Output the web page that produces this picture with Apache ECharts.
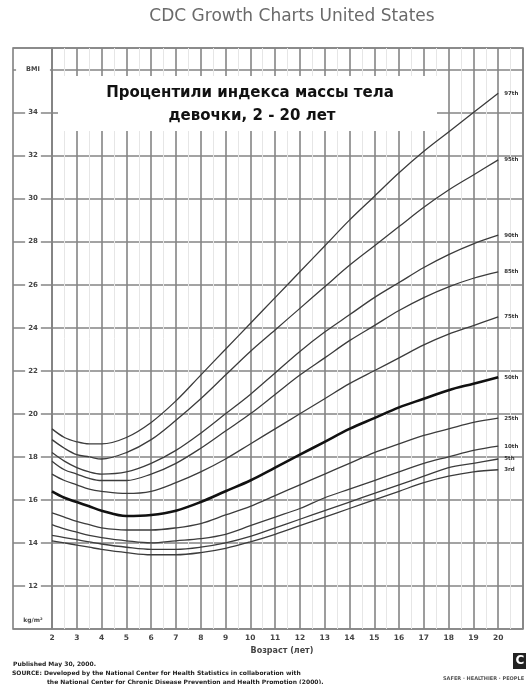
<!DOCTYPE html>
<html>
<head>
<meta charset="utf-8">
<script src="https://cdn.jsdelivr.net/npm/echarts@6/dist/echarts.min.js"></script>
<style>
  html, body { margin: 0; padding: 0; background: #fff; }
  #chart { width: 526px; height: 684px; }
</style>
</head>
<body>
<div id="chart"></div>
<script>
// Age in years
const ages = [2, 2.5, 3, 3.5, 4, 5, 6, 7, 8, 9, 10, 11, 12, 13, 14, 15, 16, 17, 18, 19, 20];

// BMI percentiles for girls (kg/m²)
const p3  = [14.1, 14.0, 13.9, 13.8, 13.7, 13.55, 13.45, 13.45, 13.55, 13.75, 14.05, 14.4, 14.8, 15.2, 15.6, 16.0, 16.4, 16.8, 17.1, 17.3, 17.4];
const p5  = [14.35, 14.25, 14.15, 14.05, 13.95, 13.8, 13.7, 13.7, 13.8, 14.0, 14.3, 14.7, 15.1, 15.5, 15.9, 16.3, 16.7, 17.1, 17.5, 17.7, 17.9];
const p10 = [14.85, 14.65, 14.5, 14.35, 14.25, 14.1, 14.0, 14.1, 14.2, 14.4, 14.8, 15.2, 15.6, 16.1, 16.5, 16.9, 17.3, 17.7, 18.0, 18.3, 18.5];
const p25 = [15.4, 15.2, 15.0, 14.85, 14.7, 14.6, 14.6, 14.7, 14.9, 15.3, 15.7, 16.2, 16.7, 17.2, 17.7, 18.2, 18.6, 19.0, 19.3, 19.6, 19.8];
const p50 = [16.4, 16.1, 15.9, 15.7, 15.5, 15.25, 15.3, 15.5, 15.9, 16.4, 16.9, 17.5, 18.1, 18.7, 19.3, 19.8, 20.3, 20.7, 21.1, 21.4, 21.7];
const p75 = [17.2, 16.9, 16.7, 16.5, 16.4, 16.3, 16.4, 16.8, 17.3, 17.9, 18.6, 19.3, 20.0, 20.7, 21.4, 22.0, 22.6, 23.2, 23.7, 24.1, 24.5];
const p85 = [17.8, 17.4, 17.2, 17.0, 16.9, 16.9, 17.2, 17.7, 18.4, 19.2, 20.0, 20.9, 21.8, 22.6, 23.4, 24.1, 24.8, 25.4, 25.9, 26.3, 26.6];
const p90 = [18.2, 17.8, 17.5, 17.3, 17.2, 17.3, 17.7, 18.3, 19.1, 20.0, 20.9, 21.9, 22.9, 23.8, 24.6, 25.4, 26.1, 26.8, 27.4, 27.9, 28.3];
const p95 = [18.8, 18.4, 18.1, 18.0, 17.9, 18.2, 18.8, 19.7, 20.7, 21.8, 22.9, 23.9, 24.9, 25.9, 26.9, 27.8, 28.7, 29.6, 30.4, 31.1, 31.8];
const p97 = [19.3, 18.9, 18.7, 18.6, 18.6, 18.9, 19.6, 20.6, 21.8, 23.0, 24.2, 25.4, 26.6, 27.8, 29.0, 30.1, 31.2, 32.2, 33.1, 34.0, 34.9];

const curveNames = ['3rd', '5th', '10th', '25th', '50th', '75th', '85th', '90th', '95th', '97th'];
const curveValues = [p3, p5, p10, p25, p50, p75, p85, p90, p95, p97];

// Axis ticks
const ageTicks = [2, 3, 4, 5, 6, 7, 8, 9, 10, 11, 12, 13, 14, 15, 16, 17, 18, 19, 20];
const bmiTicks = [12, 14, 16, 18, 20, 22, 24, 26, 28, 30, 32, 34];

const chart = echarts.init(document.getElementById('chart'), null, { renderer: 'canvas' });

const gridLine = { color: '#858585', width: 1.6 };
const faintLine = { color: '#e6e6e6', width: 1 };

const series = curveNames.map((name, k) => {
  const bold = name === '50th';
  return {
    name: name,
    type: 'line',
    xAxisIndex: 0,
    yAxisIndex: 0,
    smooth: 0.35,
    symbol: 'none',
    silent: true,
    z: bold ? 4 : 3,
    data: ages.map((a, i) => [a, curveValues[k][i]]),
    lineStyle: { color: bold ? '#111' : '#3c3c3c', width: bold ? 2.6 : 1.3 },
    endLabel: {
      show: true,
      formatter: name,
      distance: 6,
      fontSize: 5.5,
      fontWeight: 'bold',
      color: '#333',
      fontFamily: 'DejaVu Sans'
    }
  };
});

const option = {
  animation: false,
  backgroundColor: '#fff',
  grid: [
    { left: 52, top: 48, width: 475, height: 581, show: true, borderColor: '#808080', borderWidth: 1.6, backgroundColor: 'transparent' },
    { left: 13, top: 48, width: 39, height: 581, show: true, borderColor: '#808080', borderWidth: 1.6, backgroundColor: 'transparent' }
  ],
  xAxis: [
    {
      gridIndex: 0, type: 'value', min: 2, max: 21, interval: 1,
      axisLine: { show: false }, axisTick: { show: false },
      axisLabel: {
        formatter: v => (ageTicks.indexOf(v) >= 0 ? String(v) : ''),
        fontSize: 7.5, fontWeight: 'bold', color: '#444', margin: 5, fontFamily: 'DejaVu Sans'
      },
      splitLine: { show: true, lineStyle: gridLine },
      minorTick: { show: false, splitNumber: 2 },
      minorSplitLine: { show: true, lineStyle: faintLine }
    },
    { gridIndex: 1, type: 'value', min: 0, max: 1, show: false }
  ],
  yAxis: [
    {
      gridIndex: 0, type: 'value', min: 10, max: 37, interval: 2,
      axisLine: { show: false }, axisTick: { show: false }, axisLabel: { show: false },
      splitLine: { show: true, lineStyle: gridLine },
      minorTick: { show: false, splitNumber: 2 },
      minorSplitLine: { show: false }
    },
    {
      gridIndex: 1, type: 'value', min: 10, max: 37, interval: 2,
      axisLine: { show: false }, axisTick: { show: false },
      splitLine: { show: true, lineStyle: gridLine },
      axisLabel: {
        inside: true, margin: 20, align: 'center',
        formatter: v => {
          if (v === 36) return '{u|BMI}';
          if (bmiTicks.indexOf(v) >= 0) return '{n|' + v + '}';
          return '';
        },
        rich: {
          u: { backgroundColor: '#fff', padding: [2, 10], fontSize: 6.5, fontWeight: 'bold', color: '#444', fontFamily: 'DejaVu Sans' },
          n: { backgroundColor: '#fff', padding: [1, 3], fontSize: 7, fontWeight: 'bold', color: '#444', fontFamily: 'DejaVu Sans' }
        }
      }
    }
  ],
  series: series,
  graphic: [
    {
      type: 'text', z: 100, x: 292, y: 17,
      style: { text: 'CDC Growth Charts United States', fill: '#6a6a6a', font: '17px "DejaVu Sans"', textAlign: 'center', textVerticalAlign: 'middle' }
    },
    {
      type: 'rect', left: 58, top: 76, z: 50,
      shape: { width: 379, height: 55 },
      style: { fill: '#fff' }
    },
    {
      type: 'text', z: 60, x: 250, y: 93,
      style: { text: 'Процентили индекса массы тела', fill: '#111', font: 'bold 15px "DejaVu Sans"', textAlign: 'center', textVerticalAlign: 'middle' }
    },
    {
      type: 'text', z: 60, x: 252, y: 116,
      style: { text: 'девочки, 2 - 20 лет', fill: '#111', font: 'bold 15px "DejaVu Sans"', textAlign: 'center', textVerticalAlign: 'middle' }
    },
    {
      type: 'text', z: 60, x: 33, y: 620,
      style: { text: 'kg/m²', fill: '#444', font: 'bold 6px "DejaVu Sans"', textAlign: 'center', textVerticalAlign: 'middle' }
    },
    {
      type: 'text', z: 60, x: 282, y: 651,
      style: { text: 'Возраст (лет)', fill: '#444', font: 'bold 8px "DejaVu Sans"', textAlign: 'center', textVerticalAlign: 'middle' }
    },
    {
      type: 'text', z: 60, x: 13, y: 664,
      style: { text: 'Published May 30, 2000.', fill: '#222', font: 'bold 6px "DejaVu Sans"', textVerticalAlign: 'middle' }
    },
    {
      type: 'text', z: 60, x: 12, y: 673,
      style: { text: 'SOURCE: Developed by the National Center for Health Statistics in collaboration with', fill: '#222', font: 'bold 6px "DejaVu Sans"', textVerticalAlign: 'middle' }
    },
    {
      type: 'text', z: 60, x: 47, y: 682,
      style: { text: 'the National Center for Chronic Disease Prevention and Health Promotion (2000).', fill: '#222', font: 'bold 6px "DejaVu Sans"', textVerticalAlign: 'middle' }
    },
    {
      type: 'rect', left: 513, top: 653, z: 60,
      shape: { width: 14, height: 16 },
      style: { fill: '#222' }
    },
    {
      type: 'text', z: 61, x: 520, y: 661,
      style: { text: 'C', fill: '#fff', font: 'bold 12px "DejaVu Sans"', textAlign: 'center', textVerticalAlign: 'middle' }
    },
    {
      type: 'text', z: 60, x: 443, y: 679,
      style: { text: 'SAFER · HEALTHIER · PEOPLE', fill: '#555', font: 'bold 5px "DejaVu Sans"', textVerticalAlign: 'middle' }
    }
  ]
};

chart.setOption(option);
</script>
</body>
</html>
